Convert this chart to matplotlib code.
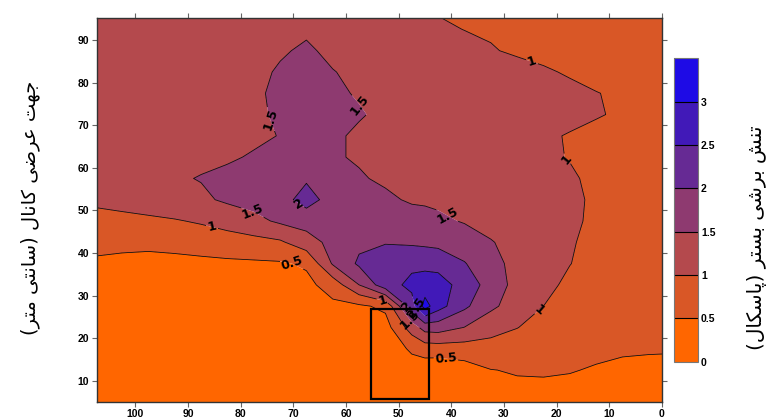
import numpy as np
import matplotlib
matplotlib.use('Agg')
import matplotlib.pyplot as plt
from matplotlib.patches import Rectangle

# ── data: bed shear stress (Pa) on a 5 cm grid ──────────────────────────────
x_nodes = [-2.5, 2.5, 7.5, 12.5, 17.5, 22.5, 27.5, 32.5, 37.5, 42.5, 45, 47.5,
           52.5, 57.5, 62.5, 67.5, 72.5, 77.5, 82.5, 87.5, 92.5, 97.5, 102.5, 107.5]
y_nodes = [2.5, 7.5, 12.5, 17.5, 22.5, 27.5, 32.5, 37.5, 42.5, 47.5,
           52.5, 57.5, 62.5, 67.5, 72.5, 77.5, 82.5, 87.5, 92.5, 97.5]

shear = [
    [0.38, 0.37, 0.36, 0.36, 0.36, 0.36, 0.36, 0.30, 0.22, 0.15, 0.15, 0.18, 0.22, 0.25, 0.27, 0.28, 0.29, 0.30, 0.30, 0.30, 0.30, 0.30, 0.30, 0.30],
    [0.42, 0.41, 0.40, 0.40, 0.40, 0.40, 0.42, 0.30, 0.20, 0.15, 0.15, 0.20, 0.25, 0.27, 0.28, 0.29, 0.30, 0.30, 0.30, 0.30, 0.30, 0.30, 0.30, 0.30],
    [0.43, 0.42, 0.42, 0.47, 0.52, 0.55, 0.53, 0.49, 0.29, 0.15, 0.20, 0.35, 0.30, 0.28, 0.29, 0.30, 0.30, 0.30, 0.30, 0.30, 0.30, 0.30, 0.30, 0.30],
    [0.52, 0.53, 0.55, 0.58, 0.63, 0.70, 0.78, 0.81, 0.77, 0.76, 0.73, 0.55, 0.30, 0.30, 0.30, 0.31, 0.31, 0.31, 0.31, 0.31, 0.31, 0.31, 0.32, 0.32],
    [0.55, 0.58, 0.63, 0.70, 0.78, 0.85, 1.01, 1.18, 1.49, 1.73, 1.70, 1.24, 0.30, 0.33, 0.32, 0.32, 0.32, 0.32, 0.32, 0.32, 0.33, 0.33, 0.34, 0.34],
    [0.55, 0.58, 0.64, 0.74, 0.87, 1.00, 1.27, 1.60, 2.10, 2.70, 3.20, 2.30, 0.60, 0.42, 0.40, 0.32, 0.32, 0.32, 0.32, 0.32, 0.33, 0.34, 0.35, 0.36],
    [0.56, 0.60, 0.67, 0.77, 0.91, 1.12, 1.34, 1.78, 2.32, 2.70, 2.72, 2.62, 2.30, 1.50, 0.70, 0.38, 0.40, 0.39, 0.38, 0.38, 0.38, 0.39, 0.40, 0.41],
    [0.58, 0.63, 0.72, 0.85, 1.01, 1.17, 1.36, 1.65, 2.03, 2.35, 2.38, 2.40, 2.30, 2.08, 1.55, 0.56, 0.45, 0.43, 0.42, 0.41, 0.41, 0.42, 0.43, 0.44],
    [0.60, 0.65, 0.74, 0.88, 1.04, 1.17, 1.33, 1.53, 1.72, 1.86, 1.90, 1.93, 1.97, 1.90, 1.65, 1.28, 0.93, 0.84, 0.76, 0.67, 0.60, 0.56, 0.57, 0.61],
    [0.60, 0.66, 0.76, 0.92, 1.08, 1.17, 1.24, 1.33, 1.47, 1.58, 1.62, 1.65, 1.70, 1.73, 1.74, 1.70, 1.58, 1.36, 1.20, 1.06, 0.96, 0.89, 0.84, 0.83],
    [0.62, 0.67, 0.76, 0.94, 1.08, 1.16, 1.22, 1.28, 1.35, 1.42, 1.45, 1.46, 1.56, 1.65, 1.80, 2.20, 1.80, 1.68, 1.57, 1.42, 1.38, 1.30, 1.20, 1.10],
    [0.64, 0.68, 0.76, 0.90, 1.06, 1.12, 1.18, 1.24, 1.30, 1.35, 1.375, 1.40, 1.45, 1.53, 1.66, 1.94, 1.72, 1.64, 1.58, 1.52, 1.45, 1.41, 1.39, 1.38],
    [0.66, 0.69, 0.75, 0.84, 0.98, 1.08, 1.15, 1.21, 1.27, 1.32, 1.345, 1.37, 1.42, 1.47, 1.53, 1.63, 1.60, 1.53, 1.46, 1.41, 1.38, 1.36, 1.35, 1.35],
    [0.68, 0.71, 0.77, 0.86, 0.97, 1.07, 1.15, 1.21, 1.26, 1.30, 1.325, 1.35, 1.40, 1.46, 1.54, 1.60, 1.51, 1.44, 1.38, 1.34, 1.32, 1.31, 1.30, 1.30],
    [0.72, 0.76, 0.93, 1.04, 1.13, 1.19, 1.24, 1.28, 1.32, 1.36, 1.38, 1.40, 1.45, 1.52, 1.58, 1.60, 1.54, 1.45, 1.38, 1.33, 1.31, 1.30, 1.30, 1.30],
    [0.72, 0.74, 0.90, 1.02, 1.12, 1.19, 1.24, 1.28, 1.31, 1.35, 1.37, 1.39, 1.43, 1.48, 1.54, 1.58, 1.55, 1.46, 1.38, 1.33, 1.30, 1.29, 1.28, 1.28],
    [0.70, 0.71, 0.74, 0.80, 0.95, 1.06, 1.15, 1.20, 1.24, 1.28, 1.305, 1.33, 1.38, 1.44, 1.51, 1.57, 1.53, 1.43, 1.35, 1.30, 1.27, 1.26, 1.26, 1.26],
    [0.70, 0.71, 0.73, 0.76, 0.80, 0.86, 0.94, 1.03, 1.10, 1.16, 1.19, 1.22, 1.29, 1.36, 1.44, 1.54, 1.47, 1.35, 1.29, 1.25, 1.23, 1.23, 1.23, 1.23],
    [0.72, 0.73, 0.75, 0.78, 0.81, 0.85, 0.90, 0.95, 0.995, 1.05, 1.085, 1.12, 1.20, 1.29, 1.38, 1.46, 1.38, 1.31, 1.26, 1.23, 1.21, 1.21, 1.21, 1.21],
    [0.75, 0.76, 0.78, 0.80, 0.82, 0.85, 0.88, 0.91, 0.94, 0.97, 0.995, 1.02, 1.08, 1.16, 1.26, 1.34, 1.30, 1.25, 1.21, 1.19, 1.18, 1.18, 1.18, 1.18],
]

levels      = [0, 0.5, 1, 1.5, 2, 2.5, 3, 3.5]
band_colors = ['#FF6600', '#D95726', '#B4494D', '#8E3A70', '#662A94', '#4119B8', '#1E0BE6']
cbar_ticks  = [0, 0.5, 1, 1.5, 2, 2.5, 3]

# where the reference puts the contour labels (cm, cm)
label_pos = {
    0.5: [(70.2, 37.5), (41.0, 15.4)],
    1.0: [(24.5, 85.6), (18.2, 62.0), (23.1, 26.4), (85.4, 46.2), (53.1, 28.7)],
    1.5: [(74.4, 71.4), (57.7, 74.4), (77.8, 49.2), (40.8, 48.7), (47.4, 24.7)],
    2.0: [(68.7, 52.0), (47.2, 28.9)],
    2.5: [(46.8, 26.8)],
}

# study box (cm)
box_x = (44.3, 55.2)
box_y = (5.6, 26.8)

# Persian labels, written in shaped (presentation) forms in visual order
ylabel_fa = ('(\uFEAE\uFE98\uFEE3 \uFBFD\uFE98\uFEE7\uFE8E\uFEB3) '
             '\uFEDD\uFE8E\uFEE7\uFE8E\uFB90 \uFBFD\uFEBF\uFEAE\uFECB \uFE96\uFEEC\uFE9F')
cbar_fa   = ('(\uFEDD\uFE8E\uFB91\uFEB3\uFE8E\uFB58) '
             '\uFEAE\uFE98\uFEB4\uFE91 \uFBFD\uFEB7\uFEAE\uFE91 \uFEB6\uFEE8\uFE97')

# ── plot ──────────────────────────────────────────────────────────────────────
TICK_FONT = dict(family='Liberation Sans', weight='bold', size=7.5)

X, Y = np.meshgrid(x_nodes, y_nodes)
Z = np.array(shear)

fig = plt.figure(figsize=(7.72, 4.19), dpi=100)
ax = fig.add_axes([0.126, 0.0406, 0.7315, 0.9157])

cf = ax.contourf(X, Y, Z, levels=levels, colors=band_colors, antialiased=True)
for lv, pos in label_pos.items():
    cs = ax.contour(X, Y, Z, levels=[lv], colors='k', linewidths=0.55)
    txts = ax.clabel(cs, fmt='%g', inline=True, inline_spacing=2, fontsize=9, manual=pos)
    for t in txts:
        t.set_fontweight('bold')
ax.contour(X, Y, Z, levels=[3.0], colors='k', linewidths=0.55)

ax.add_patch(Rectangle((box_x[0], box_y[0]), box_x[1] - box_x[0], box_y[1] - box_y[0],
                       fill=False, ec='black', lw=1.6, zorder=6))

ax.set_xlim(107.2, 0)
ax.set_ylim(5, 95.1)
ax.set_xticks(range(0, 101, 10))
ax.set_yticks(range(10, 91, 10))
ax.tick_params(direction='out', length=3.8, width=0.8, color='#666666',
               top=True, right=True, labeltop=False, labelright=False)
ax.tick_params(axis='x', pad=1.0)
ax.tick_params(axis='y', pad=2.0)
for lbl in ax.get_xticklabels() + ax.get_yticklabels():
    lbl.set_fontproperties(TICK_FONT)
for sp in ax.spines.values():
    sp.set_linewidth(1.0)
    sp.set_color('#333333')

# colorbar
cax = fig.add_axes([0.8734, 0.1368, 0.0311, 0.7241])
cb = fig.colorbar(cf, cax=cax, ticks=cbar_ticks, drawedges=True)
cb.ax.tick_params(length=0, pad=2)
cb.ax.set_yticklabels(['%g' % t for t in cbar_ticks])
for lbl in cb.ax.get_yticklabels():
    lbl.set_fontproperties(TICK_FONT)
cb.outline.set_edgecolor('#777777')
cb.outline.set_linewidth(0.8)
cb.dividers.set_color('black')
cb.dividers.set_linewidth(0.8)

fig.text(0.039, 0.504, ylabel_fa, rotation=90, ha='center', va='center',
         fontsize=14, family=['DejaVu Sans'])
fig.text(0.980, 0.432, cbar_fa, rotation=90, ha='center', va='center',
         fontsize=14.5, family=['DejaVu Sans'])

fig.savefig('out.png', dpi=100)
